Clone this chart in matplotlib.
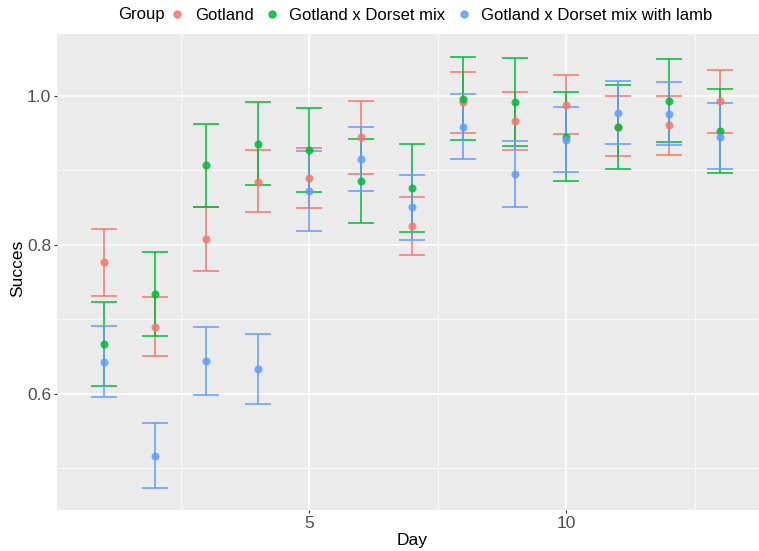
import numpy as np
import matplotlib
matplotlib.use('Agg')
from matplotlib import pyplot as plt
from matplotlib.lines import Line2D

plt.rcParams['font.family'] = ['Liberation Sans', 'DejaVu Sans']

days = [1, 2, 3, 4, 5, 6, 7, 8, 9, 10, 11, 12, 13]
groups = ['Gotland', 'Gotland x Dorset mix', 'Gotland x Dorset mix with lamb']
colors = ['#F8766D', '#00BA38', '#619CFF']

gotland_mean = [0.777, 0.690, 0.808, 0.885, 0.890, 0.945, 0.825, 0.992, 0.966, 0.988, 0.959, 0.961, 0.993]
gotland_low = [0.732, 0.651, 0.765, 0.844, 0.850, 0.895, 0.786, 0.951, 0.928, 0.949, 0.919, 0.921, 0.951]
gotland_high = [0.821, 0.730, 0.851, 0.928, 0.930, 0.994, 0.865, 1.032, 1.006, 1.028, 1.000, 1.000, 1.035]

mix_mean = [0.667, 0.734, 0.907, 0.936, 0.928, 0.886, 0.877, 0.996, 0.992, 0.945, 0.958, 0.994, 0.953]
mix_low = [0.611, 0.678, 0.851, 0.880, 0.871, 0.830, 0.818, 0.941, 0.933, 0.886, 0.902, 0.938, 0.897]
mix_high = [0.723, 0.791, 0.963, 0.992, 0.984, 0.942, 0.936, 1.052, 1.051, 1.005, 1.015, 1.050, 1.009]

lamb_mean = [0.643, 0.517, 0.644, 0.633, 0.872, 0.916, 0.851, 0.959, 0.895, 0.941, 0.977, 0.976, 0.945]
lamb_low = [0.596, 0.473, 0.598, 0.587, 0.819, 0.873, 0.806, 0.916, 0.851, 0.898, 0.935, 0.934, 0.902]
lamb_high = [0.691, 0.561, 0.690, 0.681, 0.926, 0.959, 0.894, 1.003, 0.940, 0.985, 1.020, 1.019, 0.990]

means = [gotland_mean, mix_mean, lamb_mean]
lows = [gotland_low, mix_low, lamb_low]
highs = [gotland_high, mix_high, lamb_high]

fig = plt.figure(figsize=(7.59, 5.51), dpi=100)
ax = fig.add_axes([57.3/759, 41/551, 1 - 57.3/759, (510-33.5)/551])
ax.set_facecolor('#EBEBEB')
for s in ax.spines.values():
    s.set_visible(False)

d = np.array(days)
# error bars first, then points (ggplot layer order)
for m, lo, hi, c in zip(means, lows, highs, colors):
    m = np.array(m); lo = np.array(lo); hi = np.array(hi)
    ax.errorbar(d, m, yerr=[m - lo, hi - m], fmt='none', ecolor=c, elinewidth=1.3,
                capsize=9.2, capthick=1.3, alpha=0.85, zorder=2)
for m, c in zip(means, colors):
    ax.plot(d, m, 'o', color=c, markersize=5.8, alpha=0.85, zorder=3, markeredgewidth=0)

ax.set_xlim(0.1, 13.75)
ax.set_ylim(0.444, 1.084)
ax.set_xticks([5, 10])
ax.set_yticks([0.6, 0.8, 1.0])
ax.set_yticklabels(['0.6', '0.8', '1.0'])
ax.set_xticks([2.5, 7.5, 12.5], minor=True)
ax.set_yticks([0.5, 0.7, 0.9], minor=True)
ax.grid(which='major', color='white', linewidth=1.1)
ax.grid(which='minor', color='white', linewidth=0.55)
ax.set_axisbelow(True)
ax.tick_params(which='major', length=2.5, width=0.8, color='#333333', labelcolor='#4D4D4D',
               labelsize=12.5, pad=2)
ax.tick_params(which='minor', length=0)

ax.set_xlabel('Day', fontsize=12.5, color='black', va='center')
ax.set_ylabel('Succes', fontsize=12.5, color='black', va='center')
ax.xaxis.set_label_coords(0.5055, -0.063)
ax.yaxis.set_label_coords(-0.056, 0.508)

# legend on top, title at left
fig.text(118/759, 1 - 15/551, 'Group', fontsize=12, va='center', ha='left')
handles = [Line2D([], [], marker='o', linestyle='none', color=c, markersize=5, alpha=0.85)
           for c in colors]
fig.legend(handles, groups, loc='center left', bbox_to_anchor=(169/759, 1 - 15/551), ncol=3,
           frameon=False, fontsize=12, handlelength=1.0, handletextpad=0.55,
           columnspacing=0.6, borderpad=0, borderaxespad=0)

plt.savefig('out.png', dpi=100)
